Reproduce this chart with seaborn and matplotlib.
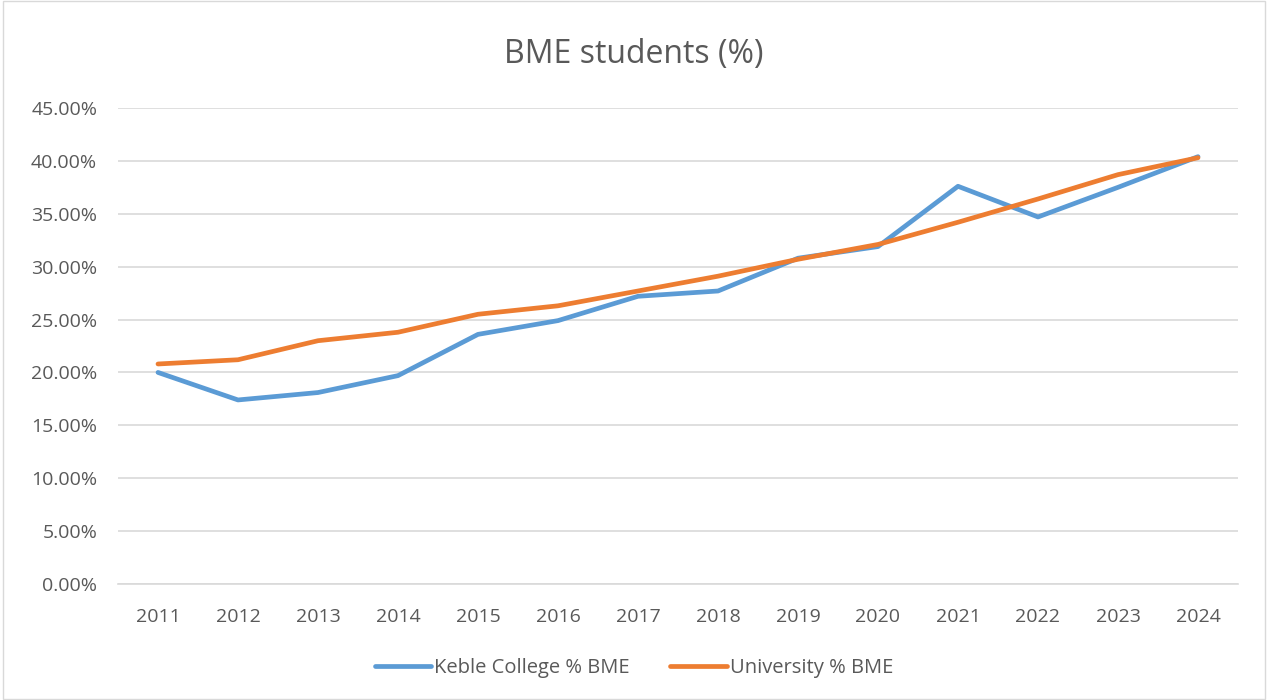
import numpy as np
import pandas as pd
import matplotlib.pyplot as plt
import matplotlib.patches as patches
from matplotlib.ticker import FuncFormatter
import seaborn as sns

# данные
years = [2011, 2012, 2013, 2014, 2015, 2016, 2017, 2018, 2019, 2020, 2021, 2022, 2023, 2024]
keble = [20.0, 17.4, 18.1, 19.7, 23.6, 24.9, 27.2, 27.7, 30.8, 31.9, 37.6, 34.7, 37.5, 40.4]
university = [20.8, 21.2, 23.0, 23.8, 25.5, 26.3, 27.7, 29.1, 30.7, 32.1, 34.2, 36.4, 38.7, 40.3]
series_names = ["Keble College % BME", "University % BME"]
colors = ["#5B9BD5", "#ED7D31"]

df = pd.DataFrame({
    "year": years * 2,
    "value": keble + university,
    "series": [series_names[0]] * len(years) + [series_names[1]] * len(years),
})

sns.set_theme(style="white")
plt.rcParams['font.family'] = ['Open Sans', 'DejaVu Sans']
text_color = "#595959"

fig = plt.figure(figsize=(12.68, 7), dpi=100)
ax = fig.add_axes([118 / 1268, 1 - 584 / 700, 1120 / 1268, 476 / 700])

sns.lineplot(data=df, x="year", y="value", hue="series", palette=colors,
             linewidth=3.4, ax=ax, legend=False, solid_capstyle="round")

ax.set_xlim(years[0] - 0.5, years[-1] + 0.5)
ax.set_ylim(0, 45)
ax.set_yticks(np.arange(0, 46, 5))
ax.yaxis.set_major_formatter(FuncFormatter(lambda v, p: f"{v:.2f}%"))
ax.set_xticks(years)
ax.set_xticklabels([str(y) for y in years])
ax.set_xlabel("")
ax.set_ylabel("")

ax.grid(axis="y", color="#d9d9d9", linewidth=1.2)
ax.set_axisbelow(True)
for side in ["top", "right", "left"]:
    ax.spines[side].set_visible(False)
ax.spines["bottom"].set_color("#d9d9d9")
ax.spines["bottom"].set_linewidth(1.2)
ax.tick_params(axis="y", length=0, pad=15, labelsize=14, labelcolor=text_color)
ax.tick_params(axis="x", length=0, pad=17, labelsize=14, labelcolor=text_color)

fig.text(0.5, 1 - 55 / 700, "BME students (%)", ha="center", va="center",
         fontsize=23, color=text_color)

# легенда
handles = [plt.Line2D([0], [0], color=c, linewidth=3.4, solid_capstyle="round") for c in colors]
fig.legend(handles, series_names, loc="center", bbox_to_anchor=(0.5, 1 - 668 / 700),
           ncol=2, frameon=False, fontsize=14.5, labelcolor=text_color,
           handlelength=2.8, handletextpad=0.15, columnspacing=2.0)

# рамка вокруг всей диаграммы
fig.patches.append(patches.Rectangle((0.002, 0.002), 0.996, 0.996, transform=fig.transFigure,
                                     fill=False, edgecolor="#d9d9d9", linewidth=1))

fig.savefig("out.png", dpi=100)
